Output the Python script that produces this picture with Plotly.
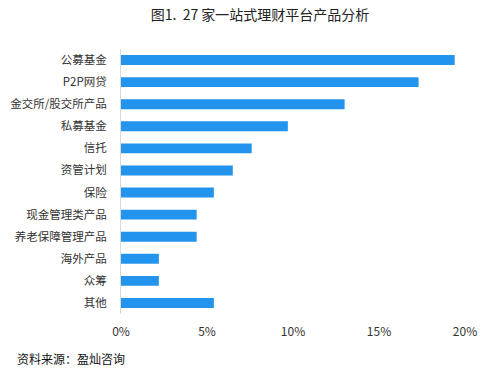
import plotly.graph_objects as go

categories = ["公募基金", "P2P网贷", "金交所/股交所产品", "私募基金", "信托", "资管计划",
              "保险", "现金管理类产品", "养老保障管理产品", "海外产品", "众筹", "其他"]
values = [19.4, 17.3, 13.0, 9.7, 7.6, 6.5, 5.4, 4.4, 4.4, 2.2, 2.2, 5.4]
tick_vals = [0, 5, 10, 15, 20]
tick_text = ["0%", "5%", "10%", "15%", "20%"]
title_text = "图1.\u00a0 27 家一站式理财平台产品分析"
source_text = "资料来源：盈灿咨询"

FONT = "Noto Sans CJK SC, Noto Sans, sans-serif"

fig = go.Figure(go.Bar(
    x=values, y=categories, orientation="h",
    marker=dict(color="#2394EE", line=dict(width=0)),
    width=0.45,
))

fig.update_layout(
    width=487, height=374,
    margin=dict(l=121, r=22, t=49, b=60, autoexpand=False),
    paper_bgcolor="white", plot_bgcolor="white",
    font=dict(family=FONT, size=12, color="#333333"),
    showlegend=False,
    title=dict(text=title_text, x=0.534, xanchor="center", y=0.96, yanchor="middle",
               font=dict(family=FONT, size=14, color="#222222")),
    annotations=[dict(text=source_text, xref="paper", yref="paper",
                      x=-106/344, xanchor="left", y=-0.168, yanchor="middle",
                      showarrow=False, font=dict(family=FONT, size=12, color="#111111"))],
)
fig.update_xaxes(range=[0, 20], tickvals=tick_vals, ticktext=tick_text,
                 showgrid=False, zeroline=False, showline=False, ticks="",
                 ticklen=0, automargin=False, ticklabelstandoff=9,
                 tickfont=dict(size=12, color="#333333"))
fig.update_yaxes(categoryorder="array", categoryarray=categories[::-1],
                 autorange=True, showgrid=False, showline=True, linecolor="#d9d9d9",
                 linewidth=1, ticks="", ticklabelstandoff=11, automargin=False,
                 tickfont=dict(size=11.5, color="#333333"))

fig.write_html("out.html", config={"displayModeBar": False},
               post_script="document.body.style.margin='0';")
